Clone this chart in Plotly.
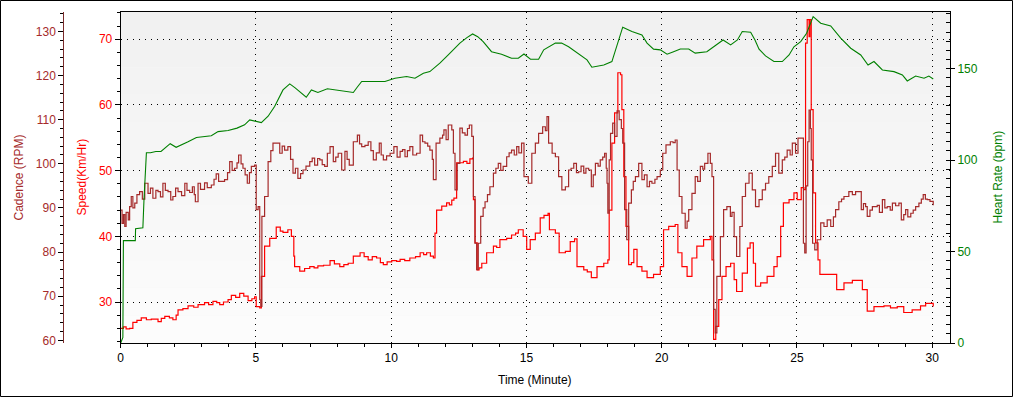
import plotly.graph_objects as go

# ---------------- data ----------------
# Heart rate (bpm) : (minute, value)
hr_points = [
    (0.00, 0), (0.08, 3), (0.10, 56), (0.54, 56), (0.55, 62.5), (0.82, 63), (0.86, 78), (0.90, 92),
    (0.95, 104), (1.10, 104), (1.30, 104.7), (1.49, 104.7), (1.65, 106.5), (1.83, 109), (2.05, 107),
    (2.30, 108.5), (2.49, 110), (2.80, 112.4), (3.10, 113), (3.35, 113.3), (3.60, 115.6), (3.97, 116.2),
    (4.30, 117.5), (4.58, 119.3), (4.77, 122), (5.00, 121), (5.20, 120.5), (5.45, 124), (5.69, 129.3),
    (6.00, 138.4), (6.25, 141.7), (6.45, 139.5), (6.62, 137.5), (6.86, 134.4), (7.05, 138.4), (7.29, 137),
    (7.64, 139), (8.10, 137.9), (8.60, 137), (8.75, 140), (8.91, 143), (9.30, 143), (9.77, 143),
    (10.14, 144.8), (10.57, 145.7), (10.88, 144.8), (11.19, 147.5), (11.43, 148.4), (11.80, 153),
    (12.11, 157.5), (12.54, 164), (12.80, 167), (13.01, 169), (13.20, 167.5), (13.40, 164.8),
    (13.71, 159.3), (14.08, 157.9), (14.45, 155.7), (14.70, 155.7), (14.91, 158), (15.15, 155.2),
    (15.45, 155.2), (15.64, 160.3), (16.07, 164), (16.30, 164), (16.56, 162), (16.87, 158.5),
    (17.24, 154.8), (17.42, 150.8), (17.86, 152), (18.16, 153.9), (18.38, 164.8), (18.56, 172.7),
    (18.90, 170.3), (19.27, 168.5), (19.46, 164), (19.70, 160.7), (19.95, 160.3), (20.20, 157.9),
    (20.44, 159.3), (20.69, 160.8), (21.00, 160.8), (21.24, 158.5), (21.67, 159.3), (21.98, 162.5),
    (22.27, 165.7), (22.55, 163), (22.80, 165.7), (22.98, 170.3), (23.29, 169.9), (23.45, 165.7),
    (23.60, 160.7), (23.84, 157), (24.15, 153.9), (24.46, 153.9), (24.71, 157.5), (24.89, 162),
    (25.14, 164.8), (25.36, 169.4), (25.60, 178.5), (25.88, 174.9), (26.25, 173.4), (26.62, 166.7),
    (26.99, 161.2), (27.36, 157.5), (27.63, 152), (27.85, 153.9), (28.16, 149.3), (28.59, 148.4),
    (28.90, 146.6), (29.08, 143.3), (29.39, 146), (29.70, 144.8), (29.88, 146), (30.04, 144.4),
]

# Speed (Km/Hr) : (minute, value)
speed_points = [
    (0.00, 26.0), (0.10, 26.2), (0.20, 25.9), (0.33, 26.0), (0.45, 26.9), (0.60, 27.2), (0.76, 27.6),
    (0.95, 27.3), (1.13, 27.4), (1.38, 27.0), (1.50, 27.5), (1.63, 27.8), (1.80, 27.6), (1.93, 27.3),
    (2.05, 28.0), (2.12, 28.8), (2.30, 29.0), (2.49, 29.4), (2.70, 29.2), (2.86, 29.6), (3.10, 29.9),
    (3.25, 29.6), (3.41, 30.1), (3.55, 29.9), (3.66, 29.6), (3.80, 30.0), (3.97, 30.35), (4.09, 31.0),
    (4.25, 30.7), (4.40, 31.3), (4.55, 30.9), (4.71, 30.2), (4.85, 30.5), (4.95, 30.8), (5.01, 29.3),
    (5.14, 29.1), (5.20, 33.9), (5.32, 38.5), (5.51, 39.7), (5.75, 41.4), (5.90, 40.8), (6.00, 40.6),
    (6.18, 41.0), (6.31, 40.0), (6.40, 37.0), (6.43, 35.4), (6.62, 34.7), (6.80, 35.1), (6.99, 35.4),
    (7.15, 35.2), (7.29, 35.5), (7.50, 35.6), (7.74, 36.3), (7.90, 35.8), (8.10, 35.4), (8.25, 35.7),
    (8.41, 35.9), (8.60, 37.0), (8.85, 37.5), (9.00, 36.9), (9.15, 36.4), (9.30, 36.9), (9.46, 36.7),
    (9.60, 36.0), (9.71, 35.7), (9.85, 36.1), (10.02, 36.3), (10.20, 36.2), (10.33, 36.5), (10.50, 36.3),
    (10.69, 36.7), (10.90, 36.9), (11.07, 37.5), (11.20, 37.2), (11.31, 37.5), (11.45, 37.0), (11.56, 36.7),
    (11.62, 40.5), (11.68, 44.0), (11.87, 44.6), (12.05, 45.1), (12.15, 44.8), (12.24, 45.5), (12.32, 45.8),
    (12.42, 51.2), (12.67, 51.4), (12.80, 51.1), (12.91, 51.8), (13.01, 51.9), (13.04, 45.6), (13.10, 39.0),
    (13.18, 34.9), (13.25, 35.2), (13.35, 35.9), (13.53, 37.5), (13.78, 38.5), (13.90, 38.3), (14.02, 39.5),
    (14.27, 39.7), (14.45, 40.2), (14.60, 40.5), (14.70, 41.0), (14.88, 40.0), (15.01, 38.0), (15.14, 39.5),
    (15.33, 40.5), (15.51, 42.8), (15.65, 43.2), (15.80, 43.5), (15.85, 41.0), (16.07, 40.5), (16.21, 37.5),
    (16.44, 37.7), (16.62, 39.2), (16.78, 39.6), (16.87, 35.4), (17.12, 34.9), (17.25, 34.6), (17.40, 33.7),
    (17.61, 35.4), (17.86, 35.9), (18.01, 36.4), (18.06, 44.0), (18.16, 54.2), (18.26, 58.8), (18.38, 64.9),
    (18.48, 64.6), (18.53, 59.3), (18.60, 49.1), (18.68, 41.5), (18.78, 35.7), (18.88, 36.0), (18.97, 38.0),
    (19.09, 35.4), (19.27, 34.7), (19.46, 33.7), (19.70, 34.2), (19.95, 35.4), (20.07, 41.0), (20.26, 41.5),
    (20.50, 41.8), (20.60, 37.5), (20.75, 35.4), (20.94, 33.9), (21.12, 36.7), (21.30, 38.5), (21.55, 39.5),
    (21.80, 40.0), (21.86, 36.4), (21.92, 24.3), (22.00, 26.3), (22.11, 30.35), (22.23, 33.9), (22.38, 35.4),
    (22.55, 35.9), (22.68, 33.4), (22.77, 31.6), (22.98, 34.4), (23.17, 38.2), (23.27, 39.0), (23.39, 35.9),
    (23.47, 32.4), (23.66, 32.9), (23.90, 33.9), (24.15, 35.4), (24.27, 36.9), (24.40, 41.5), (24.50, 45.1),
    (24.71, 45.6), (24.89, 46.6), (25.01, 45.6), (25.16, 47.4), (25.26, 47.1), (25.32, 69.4), (25.38, 73.0),
    (25.45, 70.4), (25.48, 73.0), (25.53, 59.3), (25.60, 46.6), (25.69, 39.0), (25.78, 36.4), (25.85, 34.2),
    (26.12, 34.2), (26.37, 34.2), (26.47, 31.9), (26.74, 32.9), (27.05, 33.3), (27.36, 33.3), (27.42, 31.9),
    (27.60, 28.6), (27.85, 29.3), (28.22, 29.4), (28.46, 29.1), (28.71, 29.3), (28.95, 28.4), (29.26, 28.8),
    (29.57, 29.4), (29.76, 29.8), (30.04, 29.3),
]

# Cadence (RPM) : (minute, value)
cadence_points = [
    (0.00, 89.5), (0.05, 86.5), (0.10, 88.5), (0.15, 85.8), (0.20, 89.0), (0.28, 87.3), (0.33, 90.3),
    (0.39, 92.6), (0.45, 90.0), (0.52, 91.1), (0.60, 93.0), (0.70, 93.7), (0.80, 92.0), (0.89, 95.6),
    (1.01, 93.3), (1.10, 94.5), (1.19, 92.2), (1.30, 94.0), (1.38, 93.7), (1.47, 92.5), (1.56, 95.6),
    (1.65, 94.0), (1.75, 93.7), (1.85, 91.8), (1.93, 92.6), (2.03, 94.5), (2.12, 93.7), (2.25, 92.8),
    (2.37, 95.6), (2.45, 94.0), (2.55, 93.5), (2.65, 94.8), (2.72, 93.0), (2.76, 91.4), (2.86, 95.6),
    (2.95, 94.2), (3.10, 95.7), (3.20, 94.6), (3.35, 95.2), (3.45, 96.5), (3.53, 97.7), (3.62, 96.0),
    (3.72, 96.0), (3.84, 96.4), (3.95, 98.0), (4.03, 100.5), (4.12, 98.5), (4.21, 99.0), (4.30, 100.2),
    (4.36, 102.0), (4.45, 100.0), (4.52, 99.0), (4.60, 97.5), (4.68, 95.6), (4.76, 98.0), (4.83, 99.4),
    (4.95, 99.7), (5.01, 89.6), (5.08, 90.3), (5.14, 69.2), (5.18, 67.7), (5.22, 88.1), (5.32, 92.6),
    (5.45, 100.5), (5.55, 103.0), (5.63, 104.7), (5.75, 104.7), (5.88, 102.4), (5.97, 104.0), (6.06, 103.1),
    (6.18, 103.9), (6.28, 101.0), (6.37, 97.9), (6.46, 99.0), (6.55, 96.7), (6.65, 97.8), (6.74, 98.6),
    (6.85, 99.5), (6.99, 100.5), (7.08, 101.3), (7.17, 99.7), (7.28, 101.2), (7.36, 100.9), (7.45, 99.8),
    (7.54, 99.4), (7.64, 102.4), (7.74, 103.9), (7.86, 100.5), (7.95, 101.5), (8.04, 102.4), (8.17, 98.6),
    (8.29, 102.8), (8.37, 101.0), (8.45, 99.7), (8.60, 105.0), (8.75, 106.5), (8.83, 104.5), (8.91, 103.9),
    (9.03, 104.2), (9.15, 105.0), (9.25, 103.0), (9.34, 100.9), (9.45, 102.5), (9.56, 104.7), (9.63, 102.0),
    (9.71, 100.9), (9.83, 101.8), (9.96, 102.4), (10.10, 103.9), (10.22, 101.5), (10.33, 102.8), (10.42, 103.2),
    (10.51, 101.6), (10.60, 103.0), (10.69, 103.9), (10.80, 102.0), (10.94, 102.4), (11.07, 106.5), (11.16, 105.0),
    (11.25, 104.7), (11.35, 104.0), (11.43, 103.1), (11.52, 101.0), (11.56, 96.4), (11.66, 104.7), (11.80, 105.8),
    (11.90, 106.5), (11.95, 107.7), (12.03, 105.5), (12.11, 108.8), (12.24, 107.7), (12.30, 102.4), (12.36, 94.1),
    (12.44, 100.1), (12.54, 108.1), (12.63, 107.0), (12.73, 106.5), (12.82, 108.0), (12.89, 108.8), (12.98, 106.2),
    (13.04, 92.6), (13.10, 82.0), (13.16, 76.0), (13.22, 82.0), (13.31, 88.1), (13.40, 90.0), (13.47, 91.4),
    (13.56, 93.0), (13.65, 94.8), (13.78, 97.9), (13.87, 99.0), (13.96, 100.1), (14.05, 98.5), (14.14, 99.4),
    (14.27, 101.6), (14.36, 102.5), (14.45, 103.1), (14.55, 102.0), (14.64, 103.9), (14.72, 102.5), (14.82, 104.7),
    (14.91, 97.1), (14.96, 97.1), (15.07, 95.6), (15.20, 102.4), (15.33, 104.7), (15.45, 106.9), (15.60, 108.4),
    (15.70, 107.5), (15.76, 110.7), (15.82, 104.7), (15.95, 102.4), (16.07, 101.6), (16.19, 97.1), (16.31, 94.1),
    (16.44, 94.8), (16.56, 98.6), (16.65, 99.0), (16.75, 100.1), (16.85, 98.0), (16.93, 98.2), (17.02, 99.5),
    (17.12, 97.9), (17.20, 99.0), (17.30, 98.6), (17.40, 94.8), (17.47, 97.5), (17.55, 100.1), (17.65, 99.5),
    (17.73, 100.9), (17.82, 101.5), (17.89, 102.4), (17.95, 99.0), (17.98, 95.6), (18.01, 88.8), (18.06, 100.9),
    (18.11, 106.9), (18.19, 109.2), (18.26, 106.2), (18.35, 112.0), (18.43, 110.0), (18.51, 108.0), (18.56, 104.7),
    (18.63, 89.6), (18.71, 82.8), (18.78, 91.1), (18.88, 94.1), (18.95, 96.0), (19.03, 97.1), (19.15, 100.1),
    (19.27, 96.4), (19.36, 97.5), (19.46, 94.8), (19.55, 96.0), (19.64, 95.6), (19.75, 96.5), (19.83, 97.1),
    (19.95, 98.6), (20.04, 102.4), (20.16, 104.3), (20.32, 105.0), (20.42, 104.8), (20.50, 105.4), (20.57, 98.6),
    (20.65, 92.6), (20.75, 88.8), (20.87, 85.4), (20.94, 87.0), (21.00, 89.6), (21.12, 93.3), (21.24, 97.1),
    (21.33, 96.0), (21.43, 99.4), (21.52, 98.8), (21.59, 100.1), (21.71, 102.4), (21.80, 100.1), (21.86, 97.1),
    (21.92, 67.0), (21.98, 61.7), (22.04, 74.5), (22.17, 83.5), (22.29, 89.6), (22.41, 90.3), (22.54, 88.1),
    (22.60, 89.0), (22.68, 83.5), (22.77, 79.0), (22.89, 85.8), (22.98, 92.6), (23.10, 95.6), (23.23, 97.9),
    (23.35, 94.1), (23.47, 90.3), (23.60, 91.9), (23.72, 94.1), (23.84, 95.6), (23.96, 97.1), (24.09, 99.4),
    (24.21, 102.4), (24.33, 97.9), (24.46, 100.9), (24.55, 101.5), (24.64, 103.1), (24.75, 102.0), (24.83, 104.7),
    (24.95, 102.4), (25.04, 105.8), (25.20, 105.8), (25.24, 82.0), (25.29, 79.8), (25.34, 95.0), (25.40, 105.0),
    (25.45, 112.2), (25.50, 108.0), (25.53, 100.9), (25.58, 82.0), (25.66, 80.5), (25.75, 82.8), (25.88, 86.6),
    (26.00, 85.8), (26.12, 87.3), (26.25, 85.8), (26.35, 88.0), (26.43, 89.6), (26.55, 91.4), (26.65, 92.0),
    (26.74, 92.6), (26.92, 93.7), (27.05, 93.0), (27.17, 93.7), (27.33, 93.7), (27.38, 89.6), (27.46, 91.0),
    (27.54, 90.3), (27.60, 88.1), (27.70, 89.5), (27.79, 90.3), (27.97, 90.6), (28.05, 89.0), (28.16, 91.9),
    (28.25, 90.0), (28.34, 90.3), (28.45, 89.5), (28.53, 91.1), (28.65, 90.5), (28.77, 91.1), (28.86, 87.3),
    (28.95, 88.5), (29.02, 89.6), (29.10, 88.0), (29.21, 88.8), (29.30, 89.5), (29.39, 90.3), (29.51, 91.1),
    (29.60, 92.0), (29.67, 93.0), (29.75, 92.0), (29.82, 91.9), (29.92, 91.5), (30.04, 90.6),
]

x_ticks = [0, 5, 10, 15, 20, 25, 30]

# ---------------- styling ----------------
BROWN = "#A52A2A"
RED = "#FF0000"
GREEN = "#008000"
FONT = "Liberation Sans, Arial, sans-serif"

W, H = 1013, 397
ML, MR, MT, MB = 10, 63, 12, 54
PW = W - ML - MR
PH = H - MT - MB
X0_PX = 120.7          # pixel of plot left edge
CAD_PX = 63.3          # pixel of cadence axis


def px_x(px):
    return (px - ML) / PW


def px_y(py):
    return (H - MB - py) / PH


fig = go.Figure()
fig.add_trace(go.Scatter(x=[p[0] for p in cadence_points], y=[p[1] for p in cadence_points],
                         mode="lines", line=dict(color=BROWN, width=1.2, shape="hv"),
                         yaxis="y2", name="Cadence"))
fig.add_trace(go.Scatter(x=[p[0] for p in speed_points], y=[p[1] for p in speed_points],
                         mode="lines", line=dict(color=RED, width=1.2, shape="hv"),
                         yaxis="y", name="Speed"))
fig.add_trace(go.Scatter(x=[p[0] for p in hr_points], y=[p[1] for p in hr_points],
                         mode="lines", line=dict(color=GREEN, width=1.1, shape="linear"),
                         yaxis="y3", name="Heart Rate"))

grid_dash = "1px,5px"

fig.update_layout(
    width=W, height=H,
    margin=dict(l=ML, r=MR, t=MT, b=MB, pad=0, autoexpand=False),
    paper_bgcolor="white",
    plot_bgcolor="#f7f7f7",
    showlegend=False,
    font=dict(family=FONT, size=12, color="black"),
    xaxis=dict(
        domain=[px_x(X0_PX), 1], range=[0, 30.66], automargin=False,
        tickvals=x_ticks, ticks="outside", ticklen=4, tickcolor="black",
        showline=True, linecolor="black", linewidth=1, mirror=True,
        showgrid=True, gridcolor="black", gridwidth=1, griddash=grid_dash,
        zeroline=False, tickfont=dict(size=12, color="black"),
        minor=dict(dtick=1, tick0=0, ticks="outside", ticklen=3, tickcolor="black", showgrid=False),
    ),
    yaxis=dict(
        range=[23.76, 74.15], dtick=10, tick0=0, anchor="x", side="left", automargin=False,
        ticks="outside", ticklen=5, tickcolor="black",
        showline=True, linecolor="black", linewidth=1,
        showgrid=True, gridcolor="black", gridwidth=1, griddash=grid_dash,
        zeroline=False, tickfont=dict(size=12, color=RED),
        minor=dict(dtick=2, tick0=0, ticks="outside", ticklen=3, tickcolor="black", showgrid=False),
    ),
    yaxis2=dict(
        range=[59.4, 134.4], dtick=10, tick0=0, overlaying="y", anchor="free", automargin=False,
        position=px_x(CAD_PX), side="left",
        ticks="outside", ticklen=5, tickcolor="black",
        showline=True, linecolor="#7a2a2a", linewidth=1,
        showgrid=False, zeroline=False, tickfont=dict(size=12, color=BROWN),
        minor=dict(dtick=2, tick0=0, ticks="outside", ticklen=3, tickcolor="black", showgrid=False),
    ),
    yaxis3=dict(
        range=[0, 181], dtick=50, tick0=0, overlaying="y", anchor="x", side="right", automargin=False,
        ticks="outside", ticklen=4, tickcolor="black",
        showline=True, linecolor="black", linewidth=1,
        showgrid=False, zeroline=False, tickfont=dict(size=12, color=GREEN),
        minor=dict(dtick=5, tick0=0, ticks="inside", ticklen=4, tickcolor="black", showgrid=False),
    ),
)

# subtle vertical gradient in the plotting area
bands = ["#f1f1f1", "#f2f2f2", "#f3f3f3", "#f4f4f4", "#f5f5f5", "#f6f6f6",
         "#f7f7f7", "#f8f8f8", "#f9f9f9", "#fafafa", "#fbfbfb", "#fcfcfc"]
n = len(bands)
for i, c in enumerate(bands):
    fig.add_shape(type="rect", xref="x domain", yref="y domain",
                  x0=0, x1=1, y0=1 - (i + 1) / n, y1=1 - i / n,
                  fillcolor=c, line=dict(width=0), layer="below")

# outer frame of the picture
fig.add_shape(type="rect", xref="paper", yref="paper",
              x0=px_x(0.5), x1=px_x(W - 0.5), y0=px_y(H - 0.5), y1=px_y(0.5),
              line=dict(color="black", width=1), fillcolor="rgba(0,0,0,0)", layer="above")

# axis titles
mid_y = px_y(177.5)
fig.add_annotation(text="Cadence (RPM)", xref="paper", yref="paper", x=px_x(18), y=mid_y,
                   textangle=-90, showarrow=False, font=dict(size=12, color=BROWN),
                   xanchor="center", yanchor="middle")
fig.add_annotation(text="Speed(Km/Hr)", xref="paper", yref="paper", x=px_x(81), y=mid_y,
                   textangle=-90, showarrow=False, font=dict(size=12, color=RED),
                   xanchor="center", yanchor="middle")
fig.add_annotation(text="Heart Rate (bpm)", xref="paper", yref="paper", x=px_x(997), y=mid_y,
                   textangle=-90, showarrow=False, font=dict(size=12, color=GREEN),
                   xanchor="center", yanchor="middle")
fig.add_annotation(text="Time (Minute)", xref="paper", yref="paper", x=px_x(535), y=px_y(380),
                   showarrow=False, font=dict(size=12, color="black"),
                   xanchor="center", yanchor="middle")

fig.write_html(
    "out.html",
    config={"displayModeBar": False},
    post_script="document.body.style.margin='0';document.body.style.padding='0';"
                "document.body.style.overflow='hidden';",
)
